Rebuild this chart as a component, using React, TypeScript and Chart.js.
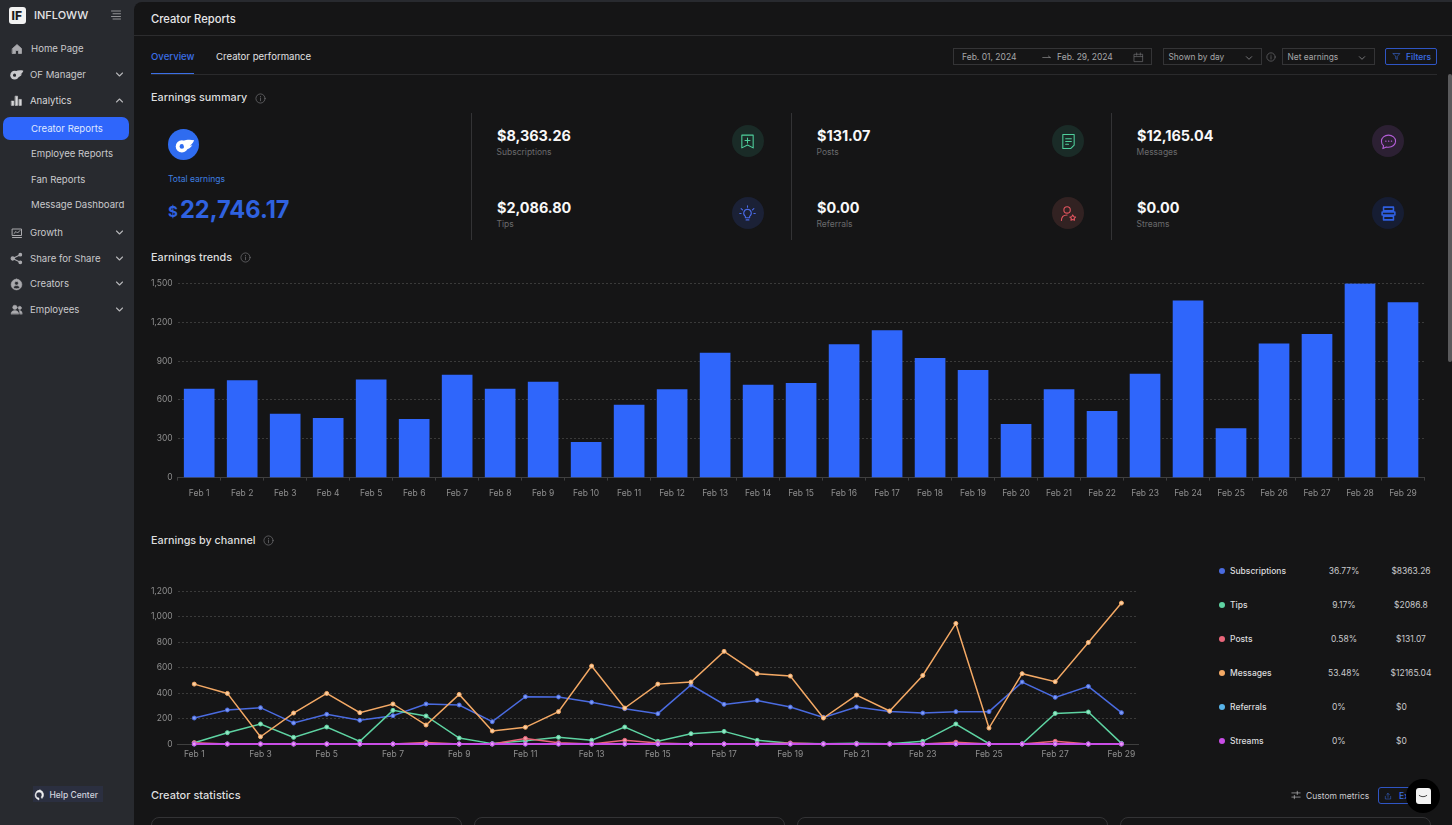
import React, { useEffect, useRef } from "react";
import { Chart, registerables } from "chart.js";

Chart.register(...registerables);

const days = [
  "Feb 1", "Feb 2", "Feb 3", "Feb 4", "Feb 5", "Feb 6", "Feb 7", "Feb 8", "Feb 9", "Feb 10",
  "Feb 11", "Feb 12", "Feb 13", "Feb 14", "Feb 15", "Feb 16", "Feb 17", "Feb 18", "Feb 19", "Feb 20",
  "Feb 21", "Feb 22", "Feb 23", "Feb 24", "Feb 25", "Feb 26", "Feb 27", "Feb 28", "Feb 29",
];

const dailyEarnings = [
  684, 749, 491, 458, 756, 450, 792, 684, 738, 273, 561, 679, 962, 715, 728, 1027, 1135, 921, 828, 412,
  679, 512, 800, 1366, 378, 1034, 1106, 1498, 1351,
];

const subscriptions = [
  204, 267, 285, 165, 233, 186, 222, 314, 306, 175, 371, 369, 327, 277, 238, 463, 311, 342, 290, 209,
  290, 256, 243, 254, 254, 486, 366, 452, 246,
];
const tips = [
  10, 89, 157, 52, 133, 21, 264, 220, 47, 3, 26, 52, 29, 133, 21, 81, 99, 29, 5, 2, 5, 2, 21, 157, 2, 2,
  240, 251, 5,
];
const posts = [
  10, 0, 0, 0, 0, 0, 0, 12, 0, 0, 44, 10, 0, 29, 8, 0, 0, 2, 8, 0, 2, 0, 0, 14, 0, 0, 21, 0, 0,
];
const messages = [
  470, 397, 57, 243, 397, 246, 314, 149, 389, 102, 131, 254, 612, 282, 470, 486, 727, 552, 533, 204, 384,
  259, 538, 946, 125, 552, 489, 797, 1106,
];
const referrals = [
  0, 0, 0, 0, 0, 0, 0, 0, 0, 0, 0, 0, 0, 0, 0, 0, 0, 0, 0, 0, 0, 0, 0, 0, 0, 0, 0, 0, 0,
];
const streams = [
  0, 0, 0, 0, 0, 0, 0, 0, 0, 0, 0, 0, 0, 0, 0, 0, 0, 0, 0, 0, 0, 0, 0, 0, 0, 0, 0, 0, 0,
];

const channelNames = ["Subscriptions", "Tips", "Posts", "Messages", "Referrals", "Streams"];
const channelColors = ["#4a6be0", "#5ed3a2", "#e9667a", "#f4a965", "#58b4ea", "#c84de6"];
const channelPoints = ["#7f9bf5", "#96e8c6", "#f59aa8", "#fbd0a4", "#9ad6f6", "#ea9cf8"];
const channelPercents = ["36.77%", "9.17%", "0.58%", "53.48%", "0%", "0%"];
const channelAmounts = ["$8363.26", "$2086.8", "$131.07", "$12165.04", "$0", "$0"];
const channelSeries = [subscriptions, tips, posts, messages, referrals, streams];
const channelOrder = [5, 4, 3, 2, 1, 0];

const font = "Inter, 'Noto Sans', sans-serif";
const tickFont = { family: font, size: 8.5 };
const tickColor = "#8e8e8e";
const gridColor = "#3a3a3a";
const sideBg = "#282a2f";

type TProps = {
  x: number;
  y: number;
  size?: number;
  color?: string;
  weight?: number;
  width?: number;
  align?: "left" | "center";
  children: React.ReactNode;
};

// text placed by its left edge and vertical centre
const T = ({ x, y, size = 9.6, color = "#c9c9cc", weight = 400, width, align, children }: TProps) => (
  <div
    style={{
      position: "absolute",
      left: x,
      top: y,
      transform: "translateY(-50%)",
      fontSize: size,
      color,
      fontWeight: weight,
      width,
      textAlign: align,
      whiteSpace: "nowrap",
      lineHeight: 1,
    }}
  >
    {children}
  </div>
);

const Box = ({ s }: { s: React.CSSProperties }) => <div style={{ position: "absolute", boxSizing: "border-box", ...s }} />;

const Svg = ({ x, y, size = 12, color = "#c9c9cc", sw = 1.5, fill = "none", children }: any) => (
  <svg
    viewBox="0 0 24 24"
    width={size}
    height={size}
    fill={fill}
    stroke={color}
    strokeWidth={sw}
    strokeLinecap="round"
    strokeLinejoin="round"
    style={{ position: "absolute", left: x - size / 2, top: y - size / 2 }}
  >
    {children}
  </svg>
);

const Chevron = ({ x, y, up, color = "#b5b5b8", size = 9 }: any) => (
  <Svg x={x} y={y} size={size} color={color} sw={3}>
    <path d={up ? "M4 16l8-8 8 8" : "M4 8l8 8 8-8"} />
  </Svg>
);

const Info = ({ x, y, size = 11 }: { x: number; y: number; size?: number }) => (
  <Svg x={x} y={y} size={size} color="#6f6f72" sw={1.6}>
    <circle cx="12" cy="12" r="10" />
    <path d="M12 11v6M12 7.5v.5" />
  </Svg>
);

const OfMark = ({ x, y, size = 15, color = "#c9c9cc", hole = sideBg }: any) => (
  <svg viewBox="0 0 24 24" width={size} height={size} style={{ position: "absolute", left: x - size / 2, top: y - size / 2 }}>
    <circle cx="9" cy="13" r="7" fill={color} />
    <circle cx="9" cy="13" r="2.6" fill={hole} />
    <path d="M10 7c4-2 9-2 13-1-1 3-3 5-5 6 1 0 2 0 3-.3-2 3-5 5-9 5z" fill={color} />
  </svg>
);

const navMain = [
  { label: "Growth", y: 233 },
  { label: "Share for Share", y: 258.5 },
  { label: "Creators", y: 284 },
  { label: "Employees", y: 309.5 },
];

const subNav = [
  { label: "Employee Reports", y: 154 },
  { label: "Fan Reports", y: 179.5 },
  { label: "Message Dashboard", y: 205 },
];

const Sidebar = () => (
  <>
    <Box s={{ left: 9, top: 7, width: 17, height: 17, background: "#f2f2f2", borderRadius: 3 }} />
    <T x={11.5} y={15.5} size={12} color="#1c1c1e" weight={800}>IF</T>
    <T x={34} y={15} size={11} color="#e4e4e6" weight={500}>INFLOWW</T>
    <Svg x={116} y={14.5} size={12} color="#b5b5b8">
      <path d="M3 4h18M6 9.5h15M3 15h18M6 20h15" />
    </Svg>

    <Svg x={17} y={49} size={12} color="#aaaaae" fill="#aaaaae">
      <path d="M3 11l9-8 9 8v10h-6v-6H9v6H3z" />
    </Svg>
    <T x={31} y={49}>Home Page</T>
    <OfMark x={16.5} y={74.5} size={15} />
    <T x={30} y={75}>OF Manager</T>
    <Chevron x={119} y={74} />
    <Svg x={16.5} y={100} size={13} color="#d8d8da" fill="#d8d8da" sw={1}>
      <path d="M3 13h4v8H3zM10 4h4v17h-4zM17 10h4v11h-4z" />
    </Svg>
    <T x={30} y={100.5} color="#d8d8da">Analytics</T>
    <Chevron x={119} y={100} up />

    <Box s={{ left: 3, top: 117, width: 126, height: 23, background: "#2f66fb", borderRadius: 7 }} />
    <T x={31} y={128.5} color="#dfe8ff">Creator Reports</T>
    {subNav.map((n) => (
      <T key={n.label} x={31} y={n.y}>{n.label}</T>
    ))}

    <Svg x={16.5} y={232.5} size={12} color="#aaaaae" sw={2}>
      <path d="M3 4h18v13H3zM3 21h18M6 13l4-4 3 3 5-5" />
    </Svg>
    <Svg x={16.5} y={258.5} size={13} color="#aaaaae" fill="#aaaaae" sw={2}>
      <circle cx="5" cy="12" r="3" />
      <circle cx="19" cy="5" r="2.5" />
      <circle cx="19" cy="19" r="2.5" />
      <path d="M5 12l14-7M5 12l14 7" />
    </Svg>
    <Svg x={16.5} y={284} size={13} color="#aaaaae" fill="#aaaaae" sw={1}>
      <path d="M12 2a10 10 0 100 20 10 10 0 000-20zm0 4a3.5 3.5 0 110 7 3.5 3.5 0 010-7zm-6 12c1-3 3.500-4 6-4s5 1 6 4c-3 2.500-9 2.500-12 0z" />
    </Svg>
    <Svg x={16.5} y={309.5} size={13} color="#aaaaae" fill="#aaaaae" sw={1}>
      <circle cx="9" cy="8" r="4" />
      <circle cx="18" cy="9" r="3" />
      <path d="M2 20c0-4 3-6 7-6s7 2 7 6zM18 20c0-3-.5-4.500-1.500-6 3-.5 6 1 6 6z" />
    </Svg>
    {navMain.map((n) => (
      <React.Fragment key={n.label}>
        <T x={30} y={n.y}>{n.label}</T>
        <Chevron x={119} y={n.y - 0.5} />
      </React.Fragment>
    ))}

    <Box s={{ left: 33, top: 786, width: 70, height: 16, background: "#2b2f40" }} />
    <Svg x={40} y={794.5} size={12} color="#f0f0f0" fill="#f0f0f0" sw={1}>
      <path d="M12 2a10 10 0 00-4 19l2 1v-4a6 6 0 116-6 5 5 0 01-2 4l2 3a10 10 0 00-4-17z" />
    </Svg>
    <T x={49.5} y={794.5} size={8.5} color="#d0d3de" weight={500}>Help Center</T>
  </>
);

const Dropdown = ({ left, width, label }: { left: number; width: number; label: string }) => (
  <>
    <Box s={{ left, top: 48, width, height: 17, border: "1px solid #343436" }} />
    <T x={left + 5.5} y={57} size={8.4} color="#a6a6a8">{label}</T>
    <Chevron x={left + width - 13} y={57.5} color="#77777a" size={8} />
  </>
);

const Toolbar = () => (
  <>
    <T x={151} y={19.5} size={11.2} color="#e6e6e8" weight={500}>Creator Reports</T>
    <Box s={{ left: 134, top: 35, width: 1318, height: 1, background: "#2c2c2e" }} />
    <T x={151} y={57} size={9.6} color="#3b6fe6" weight={500}>Overview</T>
    <T x={216} y={57} size={9.6} color="#e0e0e2" weight={400}>Creator performance</T>
    <Box s={{ left: 151, top: 73.5, width: 1286, height: 1, background: "#2a2a2c" }} />
    <Box s={{ left: 151, top: 72.5, width: 43, height: 1.5, background: "#3b6fe6" }} />

    <Box s={{ left: 953, top: 48, width: 199, height: 17, border: "1px solid #343436" }} />
    <T x={962} y={57} size={8.5} color="#a6a6a8">Feb. 01, 2024</T>
    <Svg x={1046} y={57} size={9} color="#a6a6a8">
      <path d="M2 12h20M17 8l5 4" />
    </Svg>
    <T x={1057} y={57} size={8.5} color="#a6a6a8">Feb. 29, 2024</T>
    <Svg x={1138} y={57} size={11} color="#6f6f72">
      <path d="M3 5h18v16H3zM3 10h18M8 2v5M16 2v5" />
    </Svg>
    <Dropdown left={1163} width={99} label="Shown by day" />
    <Info x={1271} y={57} size={10} />
    <Dropdown left={1282} width={93} label="Net earnings" />
    <Box s={{ left: 1385, top: 48, width: 52, height: 17, border: "1px solid #2f55c4", borderRadius: 2 }} />
    <Svg x={1396} y={56.5} size={9} color="#3b6fe6">
      <path d="M3 4h18l-7 8v8l-4-2v-6z" />
    </Svg>
    <T x={1406} y={57} size={8.5} color="#3b6fe6" weight={500}>Filters</T>
  </>
);

const SummaryIcon = ({ x, y, bg, children }: any) => (
  <>
    <Box s={{ left: x - 16, top: y - 16, width: 32, height: 32, borderRadius: "50%", background: bg }} />
    {children}
  </>
);

const Stat = ({ x, y, value, label }: { x: number; y: number; value: string; label: string }) => (
  <>
    <T x={x} y={y + 0.5} size={14.4} color="#f8f8f8" weight={700}>{value}</T>
    <T x={x - 0.5} y={y + 16.5} size={8.5} color="#6a6a6c">{label}</T>
  </>
);

const Summary = () => (
  <>
    <T x={151} y={97.5} size={10.8} color="#dededf" weight={500}>Earnings summary</T>
    <Info x={260} y={98} />
    <Box s={{ left: 168, top: 129, width: 31, height: 31, borderRadius: "50%", background: "#2f6cf0" }} />
    <OfMark x={184} y={145} size={21} color="#ffffff" hole="#2f6cf0" />
    <T x={168} y={179} size={8.5} color="#3f7fe0">Total earnings</T>
    <T x={168} y={211} size={15} color="#2f62e0" weight={700}>$</T>
    <T x={180} y={209.5} size={23.6} color="#2f62e0" weight={700}>22,746.17</T>

    {[471, 791, 1111].map((x) => (
      <Box key={x} s={{ left: x, top: 113, width: 1, height: 127, background: "#333335" }} />
    ))}

    <Stat x={497} y={135} value="$8,363.26" label="Subscriptions" />
    <Stat x={497} y={207} value="$2,086.80" label="Tips" />
    <Stat x={817} y={135} value="$131.07" label="Posts" />
    <Stat x={817} y={207} value="$0.00" label="Referrals" />
    <Stat x={1137} y={135} value="$12,165.04" label="Messages" />
    <Stat x={1137} y={207} value="$0.00" label="Streams" />

    <SummaryIcon x={747.5} y={141} bg="#1a2b27">
      <Svg x={747.5} y={141} size={17} color="#4fcf9c">
        <path d="M4 3h16v18l-8-4-8 4zM12 7v7M8.500 10.500h7" />
      </Svg>
    </SummaryIcon>
    <SummaryIcon x={747.5} y={213} bg="#1b2136">
      <Svg x={747.5} y={213} size={17} color="#4a6be8">
        <path d="M12 6a5.500 5.500 0 00-3 10v2h6v-2a5.500 5.500 0 00-3-10zM10 21h4M12 1v2M3 5l2 2M21 5l-2 2M1 12h2M21 12h2" />
      </Svg>
    </SummaryIcon>
    <SummaryIcon x={1068} y={141} bg="#1a2b27">
      <Svg x={1068} y={141} size={17} color="#4fcf9c">
        <path d="M4 2h16v15l-5 5H4zM8 8h8M8 12h8M8 16h4" />
      </Svg>
    </SummaryIcon>
    <SummaryIcon x={1068} y={213} bg="#322222">
      <Svg x={1068} y={213} size={17} color="#e2555f">
        <circle cx="10" cy="7" r="4.500" />
        <path d="M2 22c0-5 3-8 8-8M18 14l1.500 2.500 2.500.5-2 2 .5 2.500-2.500-1-2.500 1 .5-2.500-2-2 2.500-.5z" />
      </Svg>
    </SummaryIcon>
    <SummaryIcon x={1388} y={141} bg="#2c2033">
      <Svg x={1388} y={141} size={17} color="#b45ed8">
        <path d="M12 3c5.500 0 10 3.500 10 8.500S17.500 20 12 20c-1 0-2 0-3-.3L4 22l1-4c-2-1.500-3-3.800-3-6.500C2 6.500 6.500 3 12 3zM8 11.500h.5M12 11.500h.5M16 11.500h.5" />
      </Svg>
    </SummaryIcon>
    <SummaryIcon x={1388} y={213} bg="#161d33">
      <Svg x={1388} y={213} size={17} color="#2f5fe0" sw={2.2}>
        <path d="M5 3h14v5H5zM3 10h18v4H3zM5 16h14v5H5z" />
      </Svg>
    </SummaryIcon>
  </>
);

const Legend = () => (
  <>
    {channelNames.map((name, i) => {
      const y = 571 + i * 34;
      const zero = channelPercents[i] === "0%";
      return (
        <React.Fragment key={name}>
          <Box s={{ left: 1219, top: y - 3, width: 6, height: 6, borderRadius: "50%", background: channelColors[i] }} />
          <T x={1230} y={y} size={8.5} color="#dcdcde" weight={500}>{name}</T>
          {zero ? (
            <T x={1332} y={y} size={8.5}>{channelPercents[i]}</T>
          ) : (
            <T x={1314} y={y} size={8.5} width={60} align="center">{channelPercents[i]}</T>
          )}
          {zero ? (
            <T x={1396} y={y} size={8.5}>{channelAmounts[i]}</T>
          ) : (
            <T x={1381} y={y} size={8.5} width={60} align="center">{channelAmounts[i]}</T>
          )}
        </React.Fragment>
      );
    })}
  </>
);

const Footer = () => (
  <>
    <T x={151} y={795} size={11} color="#dededf" weight={500}>Creator statistics</T>
    <Svg x={1296} y={795} size={10} color="#c9c9cc">
      <path d="M2 7h20M2 17h20M15 3v8M8 13v8" />
    </Svg>
    <T x={1306} y={795.5} size={8.5} color="#c9c9cc">Custom metrics</T>
    <Box s={{ left: 1378, top: 787, width: 54, height: 17, border: "1px solid #2f55c4", borderRadius: 3 }} />
    <Svg x={1388} y={795.5} size={8} color="#3b6fe6">
      <path d="M4 13v8h16v-8M12 16V4M8 8l4-4 4 4" />
    </Svg>
    <T x={1399} y={796} size={8.5} color="#3b6fe6" weight={500}>Export</T>
    {[151, 474, 797, 1120].map((x) => (
      <Box
        key={x}
        s={{ left: x, top: 816.5, width: 311, height: 30, border: "1px solid #333335", borderRadius: 8 }}
      />
    ))}
    <Box s={{ left: 1406, top: 779, width: 34, height: 34, borderRadius: "50%", background: "#000000" }} />
    <Box s={{ left: 1415.5, top: 788, width: 15, height: 16, borderRadius: "3px 3px 0 3px", background: "#f2f2f2" }} />
    <Svg x={1423} y={798} size={10} color="#222222" sw={2}>
      <path d="M3 6c5 4 13 4 18 0" />
    </Svg>
    <Box s={{ left: 1448, top: 74, width: 4, height: 288, background: "#5a5a5c", borderRadius: 2 }} />
  </>
);

const scaleWidth = (width: number) => (scale: any) => {
  scale.width = width;
};

const scaleHeight = (height: number) => (scale: any) => {
  scale.height = height;
};

const yScale = (max: number, step: number) => ({
  min: 0,
  max,
  afterFit: scaleWidth(37.7),
  border: { display: false, dash: [2, 2] },
  grid: { color: gridColor, drawTicks: false },
  ticks: {
    stepSize: step,
    color: tickColor,
    font: tickFont,
    padding: 5,
    callback: (v: any) => Number(v).toLocaleString("en-US"),
  },
});

const TrendsChart = () => {
  const canvasRef = useRef<HTMLCanvasElement>(null);

  useEffect(() => {
    if (!canvasRef.current) return;
    const chart = new Chart(canvasRef.current, {
      type: "bar",
      data: {
        labels: days,
        datasets: [
          { label: "Net earnings", data: dailyEarnings, backgroundColor: "#2f66fb", barThickness: 30 },
        ],
      },
      options: {
        responsive: false,
        animation: false,
        devicePixelRatio: 1,
        layout: { padding: { top: 10.4, right: 15.5 } },
        plugins: { legend: { display: false }, tooltip: { enabled: false } },
        scales: {
          x: {
            afterFit: scaleHeight(27.4),
            border: { color: "#3f3f3f" },
            grid: { drawOnChartArea: false, color: "#3f3f3f", tickLength: 3 },
            ticks: { color: tickColor, font: tickFont, maxRotation: 0, autoSkip: false, padding: 8 },
          },
          y: yScale(1500, 300),
        },
      },
    });
    return () => chart.destroy();
  }, []);

  return <canvas ref={canvasRef} width={1300} height={232} style={{ position: "absolute", left: 140, top: 273 }} />;
};

const ChannelChart = () => {
  const canvasRef = useRef<HTMLCanvasElement>(null);

  useEffect(() => {
    if (!canvasRef.current) return;
    const chart = new Chart(canvasRef.current, {
      type: "line",
      data: {
        labels: days,
        datasets: channelNames.map((name, i) => ({
          label: name,
          data: channelSeries[i],
          order: channelOrder[i],
          clip: false,
          borderColor: channelColors[i],
          borderWidth: name === "Streams" ? 2 : 1.5,
          pointRadius: 2,
          pointBorderWidth: 1,
          pointBorderColor: channelColors[i],
          pointBackgroundColor: channelPoints[i],
          tension: 0,
        })),
      },
      options: {
        responsive: false,
        animation: false,
        devicePixelRatio: 1,
        layout: { padding: { top: 10, right: 12 } },
        plugins: { legend: { display: false }, tooltip: { enabled: false } },
        scales: {
          x: {
            offset: true,
            afterFit: scaleHeight(29),
            border: { color: "#3f3f3f" },
            grid: { display: false, drawTicks: false },
            ticks: {
              color: tickColor,
              font: tickFont,
              maxRotation: 0,
              autoSkip: false,
              padding: 5,
              callback: (_: any, i: number) => (i % 2 === 0 ? days[i] : ""),
            },
          },
          y: yScale(1200, 200),
        },
      },
    });
    return () => chart.destroy();
  }, []);

  return <canvas ref={canvasRef} width={1010} height={192} style={{ position: "absolute", left: 140, top: 581 }} />;
};

export default function App() {
  useEffect(() => {
    document.body.style.margin = "0";
    document.body.style.background = sideBg;
  }, []);

  return (
    <div
      style={{
        position: "fixed",
        left: 0,
        top: 0,
        width: 1452,
        height: 825,
        overflow: "hidden",
        background: sideBg,
        fontFamily: font,
      }}
    >
      <Box s={{ left: 134, top: 2, width: 1318, height: 830, background: "#151516", borderRadius: "8px 0 0 0" }} />
      <Sidebar />
      <Toolbar />
      <Summary />
      <T x={151} y={257.5} size={10.8} color="#dededf" weight={500}>Earnings trends</T>
      <Info x={245} y={257.5} />
      <TrendsChart />
      <T x={151} y={540.5} size={10.8} color="#dededf" weight={500}>Earnings by channel</T>
      <Info x={268} y={540.5} />
      <ChannelChart />
      <Legend />
      <Footer />
    </div>
  );
}
